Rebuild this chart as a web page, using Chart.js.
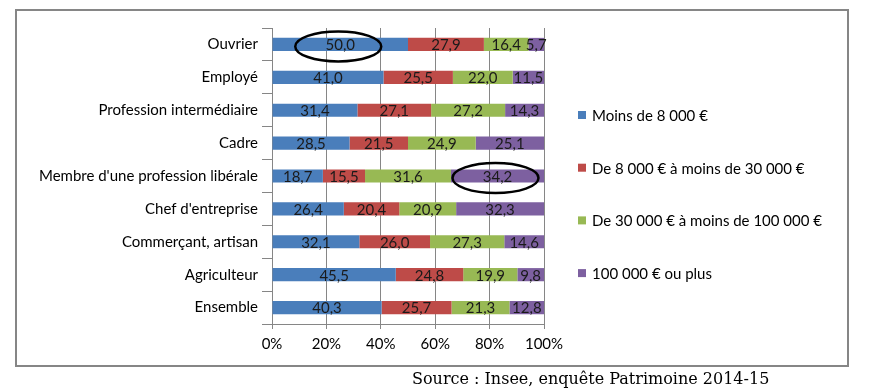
<!DOCTYPE html>
<html>
<head>
<meta charset="utf-8">
<script src="https://cdn.jsdelivr.net/npm/chart.js@4/dist/chart.umd.min.js"></script>
<style>
  html, body { margin: 0; padding: 0; background: #fff; }
  #wrap { position: relative; width: 874px; height: 391px; }
</style>
</head>
<body>
<div id="wrap"><canvas id="myChart" width="874" height="391"></canvas></div>
<script>
// categories (top to bottom)
var categories = ["Ouvrier", "Employé", "Profession intermédiaire", "Cadre",
  "Membre d'une profession libérale", "Chef d'entreprise", "Commerçant, artisan",
  "Agriculteur", "Ensemble"];

var seriesNames = ["Moins de 8 000 €", "De 8 000 € à moins de 30 000 €",
  "De 30 000 € à moins de 100 000 €", "100 000 € ou plus"];

var moins8000 = [50.0, 41.0, 31.4, 28.5, 18.7, 26.4, 32.1, 45.5, 40.3];
var de8000a30000 = [27.9, 25.5, 27.1, 21.5, 15.5, 20.4, 26.0, 24.8, 25.7];
var de30000a100000 = [16.4, 22.0, 27.2, 24.9, 31.6, 20.9, 27.3, 19.9, 21.3];
var plus100000 = [5.7, 11.5, 14.3, 25.1, 34.2, 32.3, 14.6, 9.8, 12.8];

var xTicks = [0, 20, 40, 60, 80, 100];

// circled values: [series index, category]
var circled = [[0, "Ouvrier"], [3, "Membre d'une profession libérale"]];

var sourceText = "Source : Insee, enquête Patrimoine 2014-15";

var colors = ['#4A7EBB', '#BE4B48', '#98B954', '#7D60A0'];
var FONT = "Lato";

var frameAndLabels = {
  id: 'frameAndLabels',
  beforeDraw: function(chart) {
    var c = chart.ctx;
    c.save();
    c.strokeStyle = '#868686';
    c.lineWidth = 2;
    c.strokeRect(16, 10, 832, 356);
    c.restore();
  },
  afterDatasetsDraw: function(chart) {
    var c = chart.ctx;
    c.save();
    c.font = "15px " + FONT;
    c.fillStyle = '#1a1a1a';
    c.textAlign = 'center';
    c.textBaseline = 'middle';
    chart.data.datasets.forEach(function(ds, di) {
      var meta = chart.getDatasetMeta(di);
      meta.data.forEach(function(el, i) {
        var v = ds.data[i];
        c.fillText(v.toFixed(1).replace('.', ','), (el.x + el.base) / 2, el.y + 1);
      });
    });
    // ellipses
    c.strokeStyle = '#000';
    c.lineWidth = 2.5;
    circled.forEach(function(p) {
      var el = chart.getDatasetMeta(p[0]).data[categories.indexOf(p[1])];
      var cx = (el.x + el.base) / 2;
      c.beginPath();
      c.ellipse(cx - 2, el.y + 2, 43, 15, 0, 0, Math.PI * 2);
      c.stroke();
    });
    // legend (drawn by hand, the built-in one gets squeezed on the right)
    var lx = chart.chartArea.right + 34;
    c.font = "15px " + FONT;
    c.textAlign = 'left';
    c.textBaseline = 'middle';
    chart.data.datasets.forEach(function(ds, di) {
      var ly = 115 + di * 52.7;
      c.fillStyle = ds.backgroundColor;
      c.fillRect(lx, ly - 4, 8, 8);
      c.fillStyle = '#000';
      c.fillText(ds.label, lx + 14, ly + 1);
    });
    // source
    c.font = "16px 'DejaVu Serif'";
    c.fillStyle = '#000';
    c.textBaseline = 'alphabetic';
    c.fillText(sourceText, 412, 384);
    c.restore();
  }
};

var ctx = document.getElementById("myChart");
var myBarChart = new Chart(ctx, {
  type: 'bar',
  data: {
    labels: categories,
    datasets: [
      { label: seriesNames[0], data: moins8000, backgroundColor: colors[0] },
      { label: seriesNames[1], data: de8000a30000, backgroundColor: colors[1] },
      { label: seriesNames[2], data: de30000a100000, backgroundColor: colors[2] },
      { label: seriesNames[3], data: plus100000, backgroundColor: colors[3] }
    ]
  },
  options: {
    indexAxis: 'y',
    responsive: false,
    animation: false,
    devicePixelRatio: 1,
    datasets: { bar: { categoryPercentage: 1, barPercentage: 0.4, borderWidth: 0 } },
    layout: { padding: { top: 28, bottom: 31, left: 0, right: 330 } },
    scales: {
      x: {
        stacked: true,
        min: 0, max: 100,
        afterBuildTicks: function(scale) {
          scale.ticks = xTicks.map(function(v) { return { value: v }; });
        },
        afterFit: function(scale) { scale.height = 36; },
        grid: { color: '#868686', lineWidth: 1, tickLength: 5 },
        border: { color: '#868686' },
        ticks: {
          color: '#000', font: { family: FONT, size: 15 }, padding: 6,
          callback: function(v) { return v + '%'; }
        }
      },
      y: {
        stacked: true,
        afterFit: function(scale) { scale.width = 272; },
        grid: { offset: true, drawOnChartArea: false, color: '#868686', tickLength: 10 },
        border: { color: '#868686' },
        ticks: { color: '#000', font: { family: FONT, size: 15 }, padding: 4 }
      }
    },
    plugins: {
      tooltip: { enabled: false },
      legend: { display: false }
    }
  },
  plugins: [frameAndLabels]
});
</script>
</body>
</html>
